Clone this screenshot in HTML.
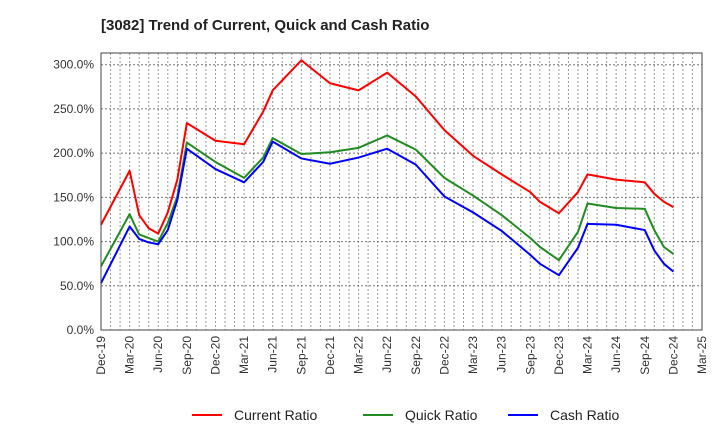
<!DOCTYPE html>
<html><head><meta charset="utf-8"><style>
body{margin:0;background:#fff;font-family:"Liberation Sans",sans-serif}
</style></head><body>
<svg id="chart" width="720" height="440" xmlns="http://www.w3.org/2000/svg" font-family="Liberation Sans, sans-serif">
<text x="101" y="30" font-size="15" font-weight="bold" fill="#222">[3082]  Trend of Current, Quick and Cash Ratio</text>
<g id="grid"></g>
<g id="axes"></g>
<g id="series"></g>
<rect x="101" y="53" width="601" height="277" fill="none" stroke="#444" stroke-width="1"/>
<g font-size="14" fill="#222">
<line x1="192" y1="415" x2="222" y2="415" stroke="#f00" stroke-width="2"/><text x="234" y="420">Current Ratio</text>
<line x1="363" y1="415" x2="393" y2="415" stroke="#228b22" stroke-width="2"/><text x="405" y="420">Quick Ratio</text>
<line x1="508" y1="415" x2="538" y2="415" stroke="#00f" stroke-width="2"/><text x="550" y="420">Cash Ratio</text>
</g>
</svg>
<script>
const monthIdx=[0,3,4,5,6,7,8,9,12,15,17,18,21,24,27,30,33,36,39,42,45,46,48,50,51,54,57,58,59,60];
const currentRatio=[119,180,130,115,109,133,170,234,214,210,247,271,305,279,271,291,264,226,197,176,156,145,132,156,176,170,167,154,145,139];
const quickRatio=[72,131,108,104,100,121,151,212,190,172,195,217,199,201,206,220,204,172,152,130,104,94,79,111,143,138,137,113,94,86];
const cashRatio=[53,117,103,99,97,113,147,205,182,167,190,213,194,188,195,205,187,151,133,112,85,75,62,93,120,119,113,90,75,66];
const xLabels=["Dec-19","Mar-20","Jun-20","Sep-20","Dec-20","Mar-21","Jun-21","Sep-21","Dec-21","Mar-22","Jun-22","Sep-22","Dec-22","Mar-23","Jun-23","Sep-23","Dec-23","Mar-24","Jun-24","Sep-24","Dec-24","Mar-25"];
const yTicks=[0,50,100,150,200,250,300];
const NS="http://www.w3.org/2000/svg";
const X0=101,X1=702,Y0=330,MAXM=63;
const xs=m=>X0+(X1-X0)*m/MAXM;
const ys=v=>Y0-v*(Y0-64.7)/300;
function mk(t,a,p){const e=document.createElementNS(NS,t);for(const k in a)e.setAttribute(k,a[k]);p.appendChild(e);return e;}
const grid=document.getElementById('grid'),axes=document.getElementById('axes'),ser=document.getElementById('series');
for(let m=1;m<MAXM;m++){const l=mk('line',{x1:xs(m),x2:xs(m),y1:53,y2:330,stroke:'#999','stroke-width':1,'stroke-dasharray':'2,2'},grid);

}
yTicks.forEach(v=>{const l=mk('line',{x1:101,x2:702,y1:ys(v),y2:ys(v),stroke:'#777','stroke-width':1,'stroke-dasharray':'2,2'},grid);


const t=mk('text',{x:94,y:ys(v)+4,'text-anchor':'end','font-size':12,fill:'#333'},axes);t.textContent=v.toFixed(1)+'%';

});
xLabels.forEach((s,i)=>{const x=xs(i*3);const t=mk('text',{x:0,y:0,transform:`translate(${x+4},336) rotate(-90)`,'text-anchor':'end','font-size':12,fill:'#333'},axes);t.textContent=s;

});
[[currentRatio,'#f00','current-ratio-line'],[quickRatio,'#228b22','quick-ratio-line'],[cashRatio,'#00f','cash-ratio-line']].forEach(([d,c,n])=>{
const p=mk('polyline',{points:d.map((v,i)=>xs(monthIdx[i])+','+ys(v)).join(' '),fill:'none',stroke:c,'stroke-width':2,'stroke-linejoin':'round'},ser);

});
</script>
</body></html>
